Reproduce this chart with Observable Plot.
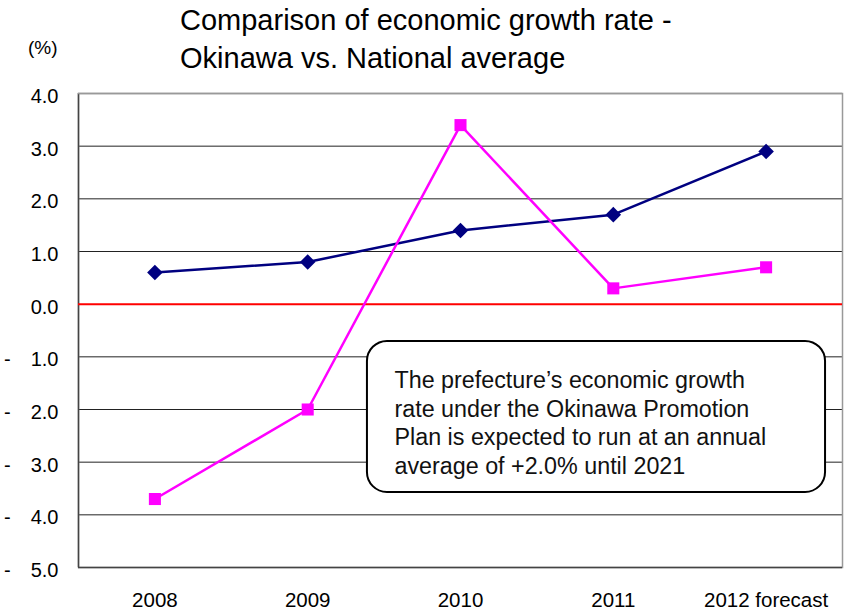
<!DOCTYPE html>
<html>
<head>
<meta charset="utf-8">
<script src="https://cdn.jsdelivr.net/npm/d3@7"></script>
<script src="https://cdn.jsdelivr.net/npm/@observablehq/plot@0.6"></script>
<style>
  html, body { margin: 0; padding: 0; background: #fff; }
  body { width: 844px; height: 613px; overflow: hidden; font-family: "Liberation Sans", Arial, sans-serif; }
  #header { position: relative; height: 80px; }
  #title { position: absolute; left: 180px; top: 2px; font-size: 29px; line-height: 37.6px; color: #000; white-space: nowrap; }
  #unit { position: absolute; left: 28px; top: 38px; font-size: 19px; line-height: 20px; color: #000; }
  #chart svg { display: block; }
</style>
</head>
<body>
<div id="header">
  <div id="unit">(%)</div>
  <div id="title">Comparison of economic growth rate -<br>Okinawa vs. National average</div>
</div>
<div id="chart"></div>
<script>
// Categories and series
const years = ["2008", "2009", "2010", "2011", "2012 forecast"];
const okinawa = [0.6, 0.8, 1.4, 1.7, 2.9];
const national = [-3.7, -2.0, 3.4, 0.3, 0.7];
const yTicks = [4, 3, 2, 1, 0, -1, -2, -3, -4, -5];

// Annotation box (in data coordinates)
const noteText = "The prefecture\u2019s economic growth\nrate under the Okinawa Promotion\nPlan is expected to run at an annual\naverage of +2.0% until 2021";
const noteBox = [{x1: 1.391, x2: 4.389, y1: -0.708, y2: -3.575}];
const noteLabel = [{x: 1.568, y: -1.196, text: noteText}];

const okData = years.map((yr, i) => ({i, v: okinawa[i]}));
const natData = years.map((yr, i) => ({i, v: national[i]}));

const fmtY = d => d < 0 ? "-\u2003" + Math.abs(d).toFixed(1) : d.toFixed(1);

const chart = Plot.plot({
  width: 844,
  height: 533,
  marginTop: 13,
  marginBottom: 46,
  marginLeft: 78,
  marginRight: 2,
  style: {fontFamily: "'Liberation Sans', Arial, sans-serif", color: "#000", background: "#fff"},
  x: {domain: [-0.5, 4.5], axis: null},
  y: {domain: [-5, 4], axis: null},
  marks: [
    Plot.ruleY(yTicks.filter(d => d !== 0 && d !== -5 && d !== 4), {stroke: "#222", strokeWidth: 1}),
    Plot.frame({stroke: "#999", strokeWidth: 1.5}),
    Plot.ruleX([-0.5], {stroke: "#444", strokeWidth: 1.5}),
    Plot.ruleY([-5], {stroke: "#444", strokeWidth: 1.5}),
    Plot.ruleY([4], {stroke: "#999", strokeWidth: 1.5}),
    Plot.ruleY([0], {stroke: "#ff0000", strokeWidth: 2}),
    Plot.axisY({ticks: yTicks, tickFormat: fmtY, tickSize: 0, tickPadding: 20, fontSize: 20, dy: 3}),
    Plot.axisX({ticks: [0, 1, 2, 3, 4], tickFormat: i => years[i], tickSize: 0, tickPadding: 25, fontSize: 20.5}),
    Plot.line(okData, {x: "i", y: "v", stroke: "#000080", strokeWidth: 2.5}),
    Plot.line(natData, {x: "i", y: "v", stroke: "#ff00ff", strokeWidth: 2.5}),
    Plot.dot(okData, {x: "i", y: "v", symbol: "diamond2", r: 7, fill: "#000080", stroke: "none"}),
    Plot.dot(natData, {x: "i", y: "v", symbol: "square", r: 6.8, fill: "#ff00ff", stroke: "none"}),
    Plot.rect(noteBox, {x1: "x1", x2: "x2", y1: "y1", y2: "y2", fill: "#fff", stroke: "#000", strokeWidth: 2, rx: 20}),
    Plot.text(noteLabel, {x: "x", y: "y", text: "text", textAnchor: "start", lineAnchor: "top", fontSize: 23.3, lineHeight: 1.24, fill: "#111"})
  ]
});
document.getElementById("chart").appendChild(chart);
</script>
</body>
</html>
